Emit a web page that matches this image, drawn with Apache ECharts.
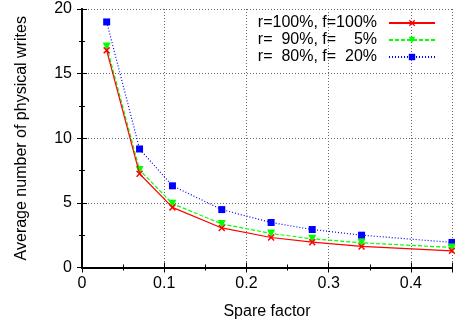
<!DOCTYPE html>
<html><head><meta charset="utf-8">
<script src="https://cdn.jsdelivr.net/npm/echarts@6/dist/echarts.min.js"></script>
<style>html,body{margin:0;padding:0;background:#fff}#c{width:455px;height:329px}</style>
</head><body><div id="c"></div>
<script>
const spareFactor = [0.03, 0.07, 0.11, 0.17, 0.23, 0.28, 0.34, 0.45];
const seriesNames = ['r=100%, f=100%', 'r=  90%, f=    5%', 'r=  80%, f=  20%'];
const r100f100 = [16.8, 7.25, 4.65, 3.06, 2.32, 1.96, 1.63, 1.29];
const r90f5 = [17.1, 7.55, 4.94, 3.37, 2.63, 2.22, 1.91, 1.55];
const r80f20 = [19.0, 9.17, 6.32, 4.48, 3.48, 2.94, 2.5, 1.94];
const xTicks = [0, 0.1, 0.2, 0.3, 0.4];
const yTicks = [0, 5, 10, 15, 20];

const FONT = 'Liberation Sans';
const crossPath = 'path://M0,1.5L1.5,0L5,3.5L8.5,0L10,1.5L6.5,5L10,8.5L8.5,10L5,6.5L1.5,10L0,8.5L3.5,5Z';
const downTriPath = 'path://M0,0L10,0L5,9Z';
const pairs = v => spareFactor.map((x, i) => [x, v[i]]);

const chart = echarts.init(document.getElementById('c'), null, {renderer: 'canvas'});
const axisCommon = {
  axisLine: {show: true, lineStyle: {color: '#000', width: 2}},
  axisTick: {show: true, inside: true, length: 5, lineStyle: {color: '#000', width: 1}},
  minorTick: {show: true, splitNumber: 2, length: 3, lineStyle: {color: '#000', width: 1}},
};
function legendFor(i, top) {
  return {
    data: [seriesNames[i]], orient: 'vertical', right: 19, top: top, align: 'right',
    itemWidth: 46, itemHeight: 8, padding: 0,
    textStyle: {fontFamily: FONT, fontSize: 16, color: '#000', padding: [0, 7, 0, 0]}
  };
}
chart.setOption({
  animation: false,
  textStyle: {fontFamily: FONT},
  grid: {left: 82, right: -2, top: 9, bottom: 61.5},
  legend: [legendFor(0, 15), legendFor(1, 32), legendFor(2, 49)],
  xAxis: [
    Object.assign({
      type: 'value', min: 0, max: 0.45, interval: 0.1, position: 'bottom',
      name: 'Spare factor', nameLocation: 'middle', nameGap: 36,
      nameTextStyle: {fontFamily: FONT, fontSize: 16, color: '#000'},
      axisLabel: {fontFamily: FONT, fontSize: 16, color: '#000', margin: 8,
        formatter: v => xTicks.includes(Math.round(v * 10) / 10) ? String(Math.round(v * 10) / 10) : ''},
      splitLine: {show: true, lineStyle: {color: '#666', type: [1, 2], width: 1}},
    }, axisCommon),
    Object.assign({
      type: 'value', min: 0, max: 0.45, interval: 0.1, position: 'top',
      axisLabel: {show: false}, splitLine: {show: false}
    }, axisCommon)
  ],
  yAxis: [
    Object.assign({
      type: 'value', min: 0, max: 20, interval: 5, position: 'left',
      name: 'Average number of physical writes', nameLocation: 'middle', nameGap: 52,
      nameTextStyle: {fontFamily: FONT, fontSize: 16, color: '#000'},
      axisLabel: {fontFamily: FONT, fontSize: 16, color: '#000', margin: 10,
        formatter: v => yTicks.includes(v) ? String(v) : ''},
      splitLine: {show: true, lineStyle: {color: '#666', type: [1, 2], width: 1}},
    }, axisCommon),
    Object.assign({
      type: 'value', min: 0, max: 20, interval: 5, position: 'right',
      axisLabel: {show: false}, splitLine: {show: false}
    }, axisCommon)
  ],
  series: [
    {name: seriesNames[0], type: 'line', data: pairs(r100f100), clip: false, z: 5,
      symbol: crossPath, symbolSize: 7,
      itemStyle: {color: '#ff0000'}, lineStyle: {color: '#ff0000', width: 1.2, type: 'solid'}},
    {name: seriesNames[1], type: 'line', data: pairs(r90f5), clip: false, z: 4,
      symbol: downTriPath, symbolSize: 8,
      itemStyle: {color: '#00ff00'}, lineStyle: {color: '#00ff00', width: 1.2, type: [4, 2]}},
    {name: seriesNames[2], type: 'line', data: pairs(r80f20), clip: false, z: 3,
      symbol: 'rect', symbolSize: 7,
      itemStyle: {color: '#0000ff'}, lineStyle: {color: '#0000ff', width: 1.2, type: [1, 2]}}
  ]
});
</script></body></html>
